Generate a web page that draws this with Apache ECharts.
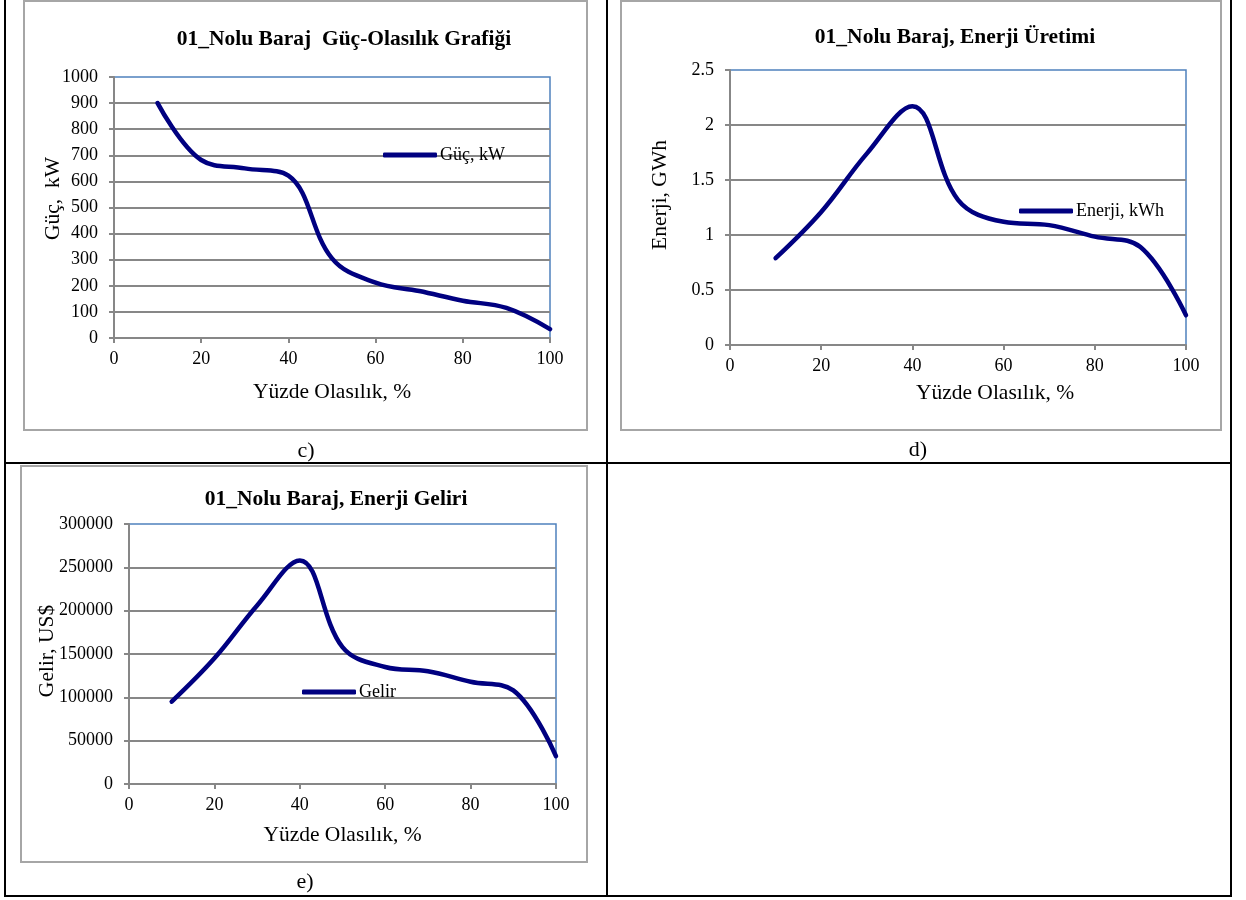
<!DOCTYPE html>
<html><head><meta charset="utf-8">
<script src="https://cdn.jsdelivr.net/npm/echarts@6/dist/echarts.min.js"></script>
<style>html,body{margin:0;padding:0;background:#fff}#c{width:1246px;height:900px}</style>
</head><body><div id="c"></div>
<script>
// ---- data ----
const xPct = [10, 20, 30, 40, 50, 60, 70, 80, 90, 100];
const gucKW = [900, 682, 650, 622, 305, 212, 180, 143, 115, 34];
const enerjiGWh = [0.79, 1.21, 1.74, 2.17, 1.32, 1.12, 1.09, 0.985, 0.89, 0.27];
const gelirUSD = [95000, 145000, 206000, 258000, 158000, 135000, 130000, 118000, 108000, 32000];

const titles = ['01_Nolu Baraj  Güç-Olasılık Grafiği', '01_Nolu Baraj, Enerji Üretimi', '01_Nolu Baraj, Enerji Geliri'];
const seriesNames = ['Güç, kW', 'Enerji, kWh', 'Gelir'];
const yNames = ['Güç,  kW', 'Enerji, GWh', 'Gelir, US$'];
const xName = 'Yüzde Olasılık, %';
const captions = ['c)', 'd)', 'e)'];

const FONT = '"Liberation Serif", "Times New Roman", serif';
const GRID_GRAY = '#878787';
const NAVY = '#000080';

function pairs(ys) { return xPct.map((x, i) => [x, ys[i]]); }

const grids = [
  { left: 114, top: 77, width: 436, height: 261 },
  { left: 730, top: 70, width: 456, height: 275 },
  { left: 129, top: 524, width: 427, height: 260 }
];
const yCfg = [
  { min: 0, max: 1000, interval: 100, nameGap: 50, pad: [0, 0, 0, 18] },
  { min: 0, max: 2.5, interval: 0.5, nameGap: 59, pad: [0, 0, 0, 25] },
  { min: 0, max: 300000, interval: 50000, nameGap: 71, pad: [0, 0, 0, 6] }
];
const xNameGap = [43, 37, 40];
const xNamePad = [[0,0,0,0], [0,0,0,74], [0,0,0,0]];

const chart = echarts.init(document.getElementById('c'), null, { renderer: 'canvas' });

const titleStyle = { fontFamily: FONT, fontWeight: 'bold', fontSize: 21.5, lineHeight: 22, color: '#000' };

const option = {
  backgroundColor: '#fff',
  animation: false,
  textStyle: { fontFamily: FONT },
  title: [
    { text: titles[0], left: 344, top: 28, textAlign: 'center', padding: 0, textStyle: titleStyle },
    { text: titles[1], left: 955, top: 26, textAlign: 'center', padding: 0, textStyle: titleStyle },
    { text: titles[2], left: 336, top: 488, textAlign: 'center', padding: 0, textStyle: titleStyle }
  ],
  legend: [
    { data: [seriesNames[0]], left: 383, top: 146 },
    { data: [seriesNames[1]], left: 1019, top: 202 },
    { data: [seriesNames[2]], left: 302, top: 683 }
  ].map(l => Object.assign(l, {
    padding: 0, icon: 'roundRect', itemWidth: 54, itemHeight: 5,
    itemStyle: { color: NAVY },
    textStyle: { fontFamily: FONT, fontSize: 18, lineHeight: 18, color: '#000', padding: [0, 0, 0, -2] }
  })),
  grid: grids.map(g => Object.assign({}, g, { show: true, borderColor: '#4F81BD', borderWidth: 1.5, backgroundColor: 'transparent', containLabel: false })),
  xAxis: [0, 1, 2].map(i => ({
    type: 'value', gridIndex: i, min: 0, max: 100, interval: 20,
    name: xName, nameLocation: 'middle', nameGap: xNameGap[i], nameMoveOverlap: false,
    nameTextStyle: { fontFamily: FONT, fontSize: 21.5, color: '#000', padding: xNamePad[i] },
    axisLine: { show: true, lineStyle: { color: GRID_GRAY, width: 2 } },
    axisTick: { show: true, inside: false, length: 5, lineStyle: { color: GRID_GRAY, width: 2 } },
    axisLabel: { fontFamily: FONT, fontSize: 18, color: '#000', margin: 12 },
    splitLine: { show: false }
  })),
  yAxis: [0, 1, 2].map(i => ({
    type: 'value', gridIndex: i, min: yCfg[i].min, max: yCfg[i].max, interval: yCfg[i].interval,
    name: yNames[i], nameLocation: 'middle', nameGap: yCfg[i].nameGap, nameMoveOverlap: false,
    nameTextStyle: { fontFamily: FONT, fontSize: 21.5, color: '#000', padding: yCfg[i].pad },
    axisLine: { show: true, lineStyle: { color: GRID_GRAY, width: 2 } },
    axisTick: { show: true, inside: false, length: 5, lineStyle: { color: GRID_GRAY, width: 2 } },
    axisLabel: { fontFamily: FONT, fontSize: 18, color: '#000', margin: 16, formatter: v => String(v) },
    splitLine: { show: true, showMaxLine: false, lineStyle: { color: GRID_GRAY, width: 2 } }
  })),
  series: [
    { name: seriesNames[0], data: pairs(gucKW), xAxisIndex: 0, yAxisIndex: 0 },
    { name: seriesNames[1], data: pairs(enerjiGWh), xAxisIndex: 1, yAxisIndex: 1 },
    { name: seriesNames[2], data: pairs(gelirUSD), xAxisIndex: 2, yAxisIndex: 2 }
  ].map(s => Object.assign(s, {
    type: 'line', smooth: 0.38, symbol: 'none', showSymbol: false,
    lineStyle: { color: NAVY, width: 4.5, cap: 'round', join: 'round' },
    itemStyle: { color: NAVY }, z: 5
  })),
  graphic: [
    // chart frames
    { type: 'rect', shape: { x: 24, y: 1, width: 563, height: 429 }, style: { fill: 'none', stroke: '#A6A6A6', lineWidth: 2 }, silent: true },
    { type: 'rect', shape: { x: 621, y: 1, width: 600, height: 429 }, style: { fill: 'none', stroke: '#A6A6A6', lineWidth: 2 }, silent: true },
    { type: 'rect', shape: { x: 21, y: 466, width: 566, height: 396 }, style: { fill: 'none', stroke: '#A6A6A6', lineWidth: 2 }, silent: true },
    // table lines
    { type: 'line', shape: { x1: 5, y1: 0, x2: 5, y2: 897 }, style: { stroke: '#000', lineWidth: 2 }, silent: true },
    { type: 'line', shape: { x1: 607, y1: 0, x2: 607, y2: 897 }, style: { stroke: '#000', lineWidth: 2 }, silent: true },
    { type: 'line', shape: { x1: 1231, y1: 0, x2: 1231, y2: 897 }, style: { stroke: '#000', lineWidth: 2 }, silent: true },
    { type: 'line', shape: { x1: 4, y1: 463, x2: 1232, y2: 463 }, style: { stroke: '#000', lineWidth: 2 }, silent: true },
    { type: 'line', shape: { x1: 4, y1: 896, x2: 1232, y2: 896 }, style: { stroke: '#000', lineWidth: 2 }, silent: true },
    // captions
    { type: 'text', x: 306, y: 451, style: { text: captions[0], font: '22px ' + FONT, fill: '#000', textAlign: 'center', textVerticalAlign: 'middle' }, silent: true },
    { type: 'text', x: 918, y: 450, style: { text: captions[1], font: '22px ' + FONT, fill: '#000', textAlign: 'center', textVerticalAlign: 'middle' }, silent: true },
    { type: 'text', x: 305, y: 882, style: { text: captions[2], font: '22px ' + FONT, fill: '#000', textAlign: 'center', textVerticalAlign: 'middle' }, silent: true }
  ]
};
chart.setOption(option);
</script>
</body></html>
